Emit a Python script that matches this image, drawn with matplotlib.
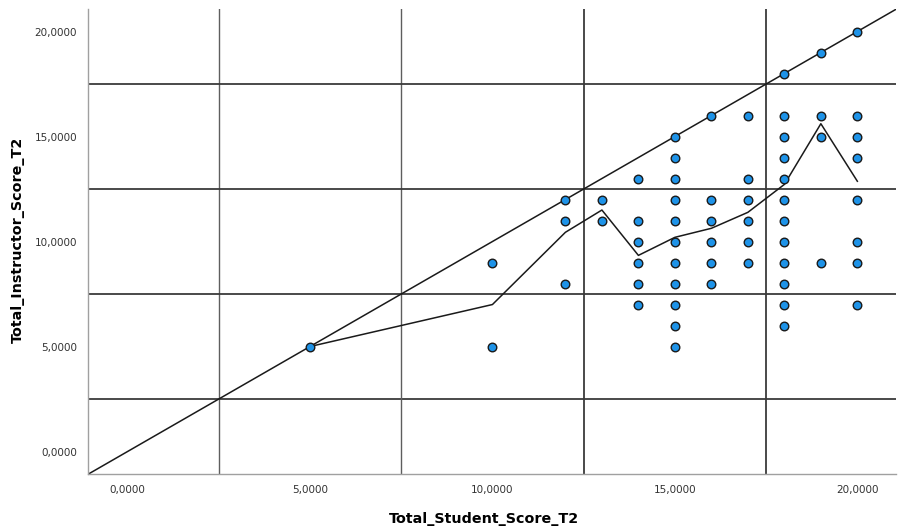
#! /usr/bin/env python3

import numpy as np
import matplotlib
matplotlib.use('Agg')
import matplotlib.pyplot as plt

# student score (x) vs instructor score (y), one row per distinct point
student = [5, 10, 10,
           12, 12, 12,
           13, 13,
           14, 14, 14, 14, 14, 14,
           15, 15, 15, 15, 15, 15, 15, 15, 15, 15, 15,
           16, 16, 16, 16, 16, 16,
           17, 17, 17, 17, 17, 17,
           18, 18, 18, 18, 18, 18, 18, 18, 18, 18, 18, 18,
           19, 19, 19, 19,
           20, 20, 20, 20, 20, 20, 20, 20]
instructor = [5, 9, 5,
              12, 11, 8,
              12, 11,
              13, 11, 10, 9, 8, 7,
              15, 14, 13, 12, 11, 10, 9, 8, 7, 6, 5,
              16, 12, 11, 10, 9, 8,
              16, 13, 12, 11, 10, 9,
              18, 16, 15, 14, 13, 12, 11, 10, 9, 8, 7, 6,
              19, 16, 15, 9,
              20, 16, 15, 14, 12, 10, 9, 7]

# mean instructor score at each student score (interpolation line)
mean_x = [5, 10, 12, 13, 14, 15, 16, 17, 18, 19, 20]
mean_y = [5.0, 7.0, 10.44, 11.5, 9.34, 10.2, 10.63, 11.39, 12.72, 15.61, 12.87]

ticks = [0, 5, 10, 15, 20]
ref_lines = [2.5, 7.5, 12.5, 17.5]


def fmt(v, pos=None):
    return '{:.4f}'.format(v).replace('.', ',')


def main():
    fig = plt.figure(figsize=(8.99, 5.32), dpi=100)
    fig.patch.set_facecolor('white')
    ax = fig.add_axes([0.098, 0.109, 0.8987, 0.874])
    xlo, xhi = -1.08, 21.06
    ylo, yhi = -1.07, 21.07
    ax.set_xlim(xlo, xhi)
    ax.set_ylim(ylo, yhi)

    # reference grid
    for v in ref_lines:
        dark = v > 10
        ax.axvline(v, color='#3a3a3a' if dark else '#5e5e5e',
                   lw=1.3 if dark else 1.0, zorder=1)
        ax.axhline(v, color='#3a3a3a', lw=1.3, zorder=1)

    # identity line
    ax.plot([xlo, xhi], [xlo, xhi], color='#1a1a1a', lw=1.1, zorder=2)
    ax.plot(mean_x, mean_y, color='#1a1a1a', lw=1.1, zorder=2)

    ax.scatter(student, instructor, s=38, color='#1e93e8',
               edgecolors='#1a1a1a', linewidths=1.0, zorder=3)

    ax.set_xticks(ticks)
    ax.set_yticks(ticks)
    ax.xaxis.set_major_formatter(plt.FuncFormatter(fmt))
    ax.yaxis.set_major_formatter(plt.FuncFormatter(fmt))
    ax.tick_params(length=0, labelsize=7.5, labelcolor='#333333', pad=8)
    for s in ['top', 'right']:
        ax.spines[s].set_visible(False)
    for s in ['left', 'bottom']:
        ax.spines[s].set_color('#a0a0a0')
        ax.spines[s].set_linewidth(1.0)

    fig.text(484 / 899, 1 - 519 / 532, 'Total_Student_Score_T2',
             fontsize=10.3, fontweight='bold', ha='center', va='center')
    fig.text(18 / 899, 1 - 240 / 532, 'Total_Instructor_Score_T2',
             fontsize=10.3, fontweight='bold', ha='center', va='center',
             rotation=90)

    fig.savefig('out.png', dpi=100)
    plt.close(fig)


if __name__ == '__main__':
    main()
